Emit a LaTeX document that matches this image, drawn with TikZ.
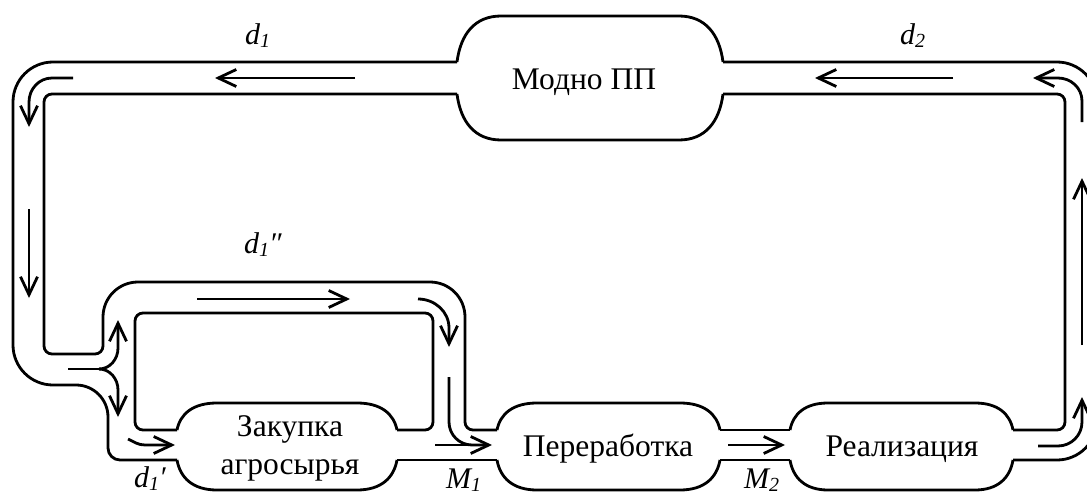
\documentclass[tikz,border=0pt]{standalone}
\usepackage{fontspec}
\setmainfont{Liberation Serif}
\usetikzlibrary{arrows.meta}
\tikzset{
  pipe/.style={line width=2.8pt, line join=round},
  flowline/.style={line width=2.8pt},
  flow/.style={line width=2.8pt, -{Straight Barb[length=18pt,width=17pt,line width=2.8pt]}},
  proc/.style={font=\fontsize{31.5}{38}\selectfont, align=center, inner sep=0pt},
  lbl/.style={font=\fontsize{30}{32}\selectfont\itshape, inner sep=0pt, anchor=base west}
}
% xl xr ytop ybot ya yb rx
\newcommand{\pipecapsule}[7]{%
  \draw[pipe] (#1,#5) .. controls ({#1+0.08*#7},{#5-0.6*(#5-#3)}) and ({#1+0.4*#7},#3) .. ({#1+#7},#3)
    -- ({#2-#7},#3) .. controls ({#2-0.4*#7},#3) and ({#2-0.08*#7},{#5-0.6*(#5-#3)}) .. (#2,#5);
  \draw[pipe] (#1,#6) .. controls ({#1+0.08*#7},{#6+0.6*(#4-#6)}) and ({#1+0.4*#7},#4) .. ({#1+#7},#4)
    -- ({#2-#7},#4) .. controls ({#2-0.4*#7},#4) and ({#2-0.08*#7},{#6+0.6*(#4-#6)}) .. (#2,#6);
}
\newcommand{\sublbl}[3]{#1\raisebox{-0.1em}{\fontsize{20}{20}\selectfont #2}#3}
\begin{document}
\begin{tikzpicture}[x=1pt,y=-1pt]
\useasboundingbox (0,0) rectangle (1087,495);
\clip (0,0) rectangle (1087,495);

% process nodes (text)
\node[proc, anchor=base] (modno) at (584,89) {Модно ПП};
\node[proc] (zak) at (290,448) {Закупка\\агросырья};
\node[proc, anchor=base] (per) at (608,456) {Переработка};
\node[proc, anchor=base] (real) at (902,456) {Реализация};

% node outlines
\pipecapsule{457}{723}{16}{140}{62}{94}{44}
\pipecapsule{177}{397}{403}{490}{430}{460}{40}
\pipecapsule{497}{720}{403}{490}{430}{460}{40}
\pipecapsule{790}{1013}{403}{490}{430}{460}{38}

% pipe walls
\draw[pipe] (457,62) [rounded corners=40pt] -- (13,62) -- (13,385)
  [rounded corners=32pt] -- (108,385) [rounded corners=12pt] -- (108,460)
  [rounded corners=26pt] -- (177,460);
\draw[pipe] (457,94) [rounded corners=8pt] -- (44,94) -- (44,354) -- (103,354)
  [rounded corners=35pt] -- (103,282) -- (465,282) [rounded corners=8pt] -- (465,430) -- (497,430);
\draw[pipe] (177,430) [rounded corners=8pt] -- (135,430) -- (135,313) -- (433,313) -- (433,430) -- (397,430);
\draw[pipe] (397,460) -- (497,460);
\draw[pipe] (720,430) -- (790,430);
\draw[pipe] (720,460) -- (790,460);
\draw[pipe] (723,94) [rounded corners=8pt] -- (1065,94) -- (1065,430) -- (1013,430);
\draw[pipe] (723,62) [rounded corners=40pt] -- (1097,62) -- (1097,460) -- (1013,460);

% flow arrows
\draw[flow] (355,78) -- (215,78);
\draw[flow] (953,78) -- (815,78);
\draw[flow] (73,78) -- (52,78) to[out=180,in=90] (29,102) -- (29,127);
\draw[flow] (29,209) -- (29,298);
\draw[flowline] (68,369) -- (100,369);
\draw[flow] (99,369) to[out=0,in=-90] (118,348) -- (118,320);
\draw[flow] (99,369) to[out=0,in=90] (118,390) -- (118,417);
\draw[flow] (128,439) to[out=-25,in=180] (145,445) -- (175,445);
\draw[flow] (197,299) -- (350,299);
\draw[flow] (418,299) to[out=0,in=90] (449,328) -- (449,347);
\draw[flowline] (449,377) -- (449,422) to[out=-90,in=180] (472,445) -- (485,445);
\draw[flow] (435,445) -- (492,445);
\draw[flow] (728,445) -- (785,445);
\draw[flow] (1038,446) -- (1058,446) to[out=0,in=-90] (1082,422) -- (1082,397);
\draw[flow] (1082,345) -- (1082,178);
\draw[flow] (1082,122) -- (1082,101) to[out=90,in=0] (1058,78) -- (1033,78);

% labels
\node[lbl] (ld1) at (245,45) {\sublbl{d}{1}{}};
\node[lbl] (ld2) at (900,45) {\sublbl{d}{2}{}};
\node[lbl] (ld1b) at (244,253) {\sublbl{d}{1}{″}};
\node[lbl] (ld1a) at (134,487) {\sublbl{d}{1}{′}};
\node[lbl] (lm1) at (446,488) {\sublbl{M}{1}{}};
\node[lbl] (lm2) at (744,488) {\sublbl{M}{2}{}};
\end{tikzpicture}
\end{document}
